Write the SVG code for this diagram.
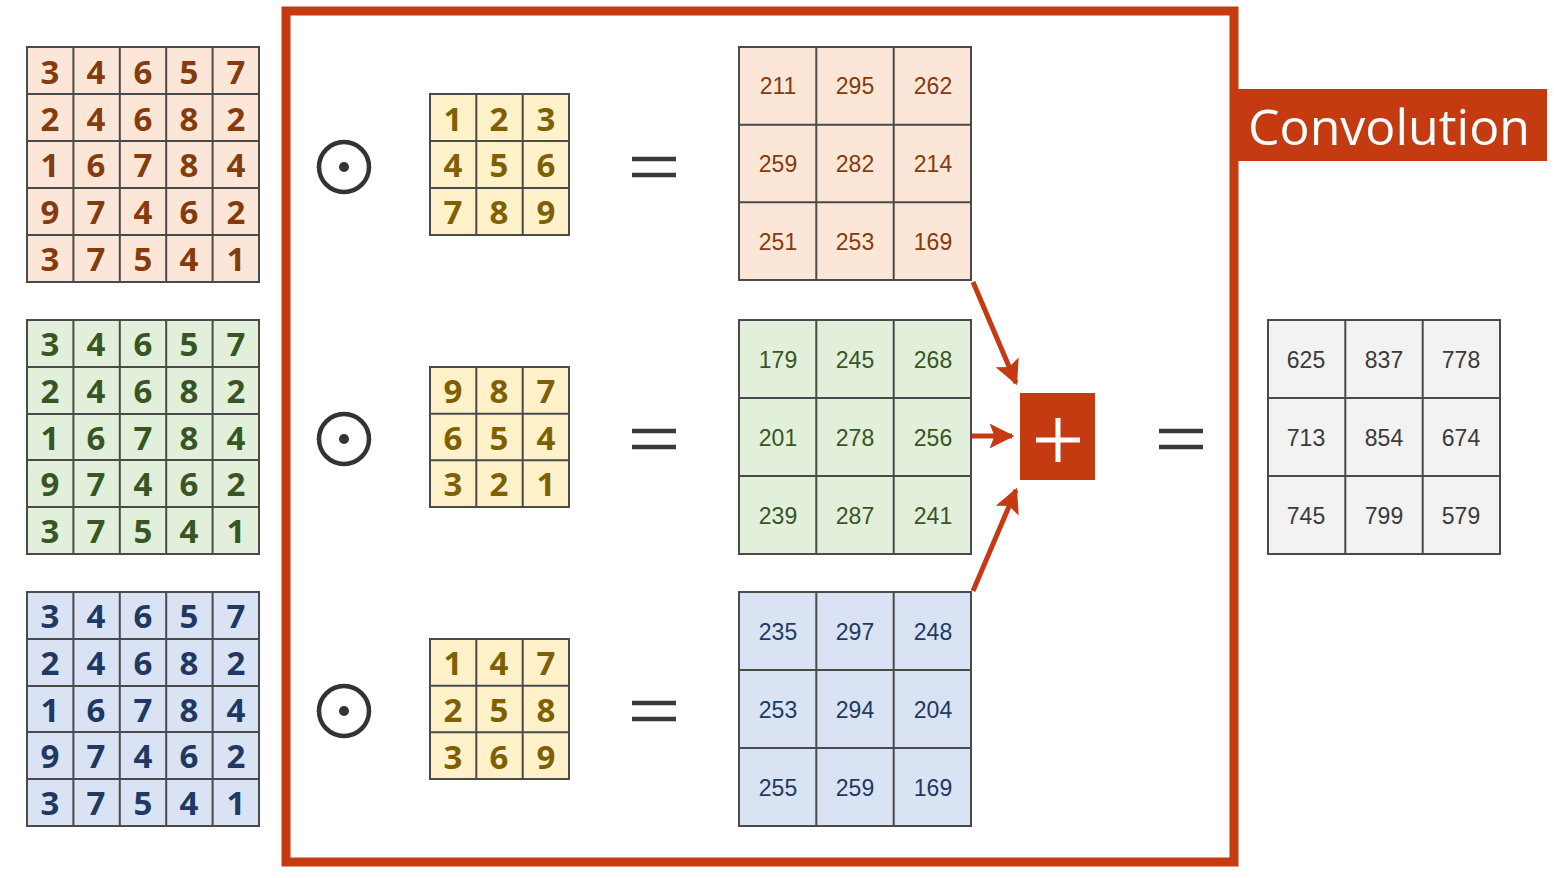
<svg xmlns="http://www.w3.org/2000/svg" width="1554" height="878" viewBox="0 0 1554 878">
<defs>
<marker id="ah" markerWidth="5" markerHeight="5" refX="4.5" refY="2.5" orient="auto" markerUnits="strokeWidth"><path d="M0,0 L5,2.5 L0,5 L1,2.5 Z" fill="#C43B12"/></marker>
</defs>
<style>
.c{stroke:#4a4a4a;stroke-width:2}
.o{fill:#FCE6D8}.g{fill:#E2EFDA}.b{fill:#DAE3F3}.k{fill:#FFF1C9}.w{fill:#F2F2F2}
.big{font-family:"Open Sans","Noto Sans",sans-serif;font-weight:bold;font-size:33px;text-anchor:middle;dominant-baseline:central}
.num{font-family:"Liberation Sans",Arial,sans-serif;font-size:23px;text-anchor:middle;dominant-baseline:central}
.to{fill:#843C0C}.tg{fill:#375623}.tb{fill:#1F3864}.tk{fill:#7F6000}.tw{fill:#3A3A3A}
.od{fill:none;stroke:#333;stroke-width:4.5}
.eq{stroke:#3a3a3a;stroke-width:4.5}
.arr{stroke:#C43B12;stroke-width:5;fill:none;marker-end:url(#ah)}
</style>
<rect width="1554" height="878" fill="#fff"/>
<rect x="286" y="11" width="948" height="851" fill="none" stroke="#C43B12" stroke-width="9"/>
<g id="label-convolution"><rect x="1232" y="89" width="315" height="72" fill="#C43B12"/><text x="1389" y="126" font-family="Open Sans,Noto Sans,sans-serif" font-size="50" fill="#fff" text-anchor="middle" dominant-baseline="central">Convolution</text></g>
<g id="input-red">
<rect class="c o" x="27" y="47" width="232" height="235"/>
<path class="c" d="M73.4,47V282M119.8,47V282M166.2,47V282M212.6,47V282M27,94H259M27,141H259M27,188H259M27,235H259"/>
<g class="big to">
<text x="50" y="71">3</text><text x="96" y="71">4</text><text x="143" y="71">6</text><text x="189" y="71">5</text><text x="236" y="71">7</text>
<text x="50" y="118">2</text><text x="96" y="118">4</text><text x="143" y="118">6</text><text x="189" y="118">8</text><text x="236" y="118">2</text>
<text x="50" y="164">1</text><text x="96" y="164">6</text><text x="143" y="164">7</text><text x="189" y="164">8</text><text x="236" y="164">4</text>
<text x="50" y="211">9</text><text x="96" y="211">7</text><text x="143" y="211">4</text><text x="189" y="211">6</text><text x="236" y="211">2</text>
<text x="50" y="258">3</text><text x="96" y="258">7</text><text x="143" y="258">5</text><text x="189" y="258">4</text><text x="236" y="258">1</text>
</g></g>
<g id="input-green">
<rect class="c g" x="27" y="320" width="232" height="234"/>
<path class="c" d="M73.4,320V554M119.8,320V554M166.2,320V554M212.6,320V554M27,367H259M27,414H259M27,460H259M27,507H259"/>
<g class="big tg">
<text x="50" y="343">3</text><text x="96" y="343">4</text><text x="143" y="343">6</text><text x="189" y="343">5</text><text x="236" y="343">7</text>
<text x="50" y="390">2</text><text x="96" y="390">4</text><text x="143" y="390">6</text><text x="189" y="390">8</text><text x="236" y="390">2</text>
<text x="50" y="437">1</text><text x="96" y="437">6</text><text x="143" y="437">7</text><text x="189" y="437">8</text><text x="236" y="437">4</text>
<text x="50" y="483">9</text><text x="96" y="483">7</text><text x="143" y="483">4</text><text x="189" y="483">6</text><text x="236" y="483">2</text>
<text x="50" y="530">3</text><text x="96" y="530">7</text><text x="143" y="530">5</text><text x="189" y="530">4</text><text x="236" y="530">1</text>
</g></g>
<g id="input-blue">
<rect class="c b" x="27" y="592" width="232" height="234"/>
<path class="c" d="M73.4,592V826M119.8,592V826M166.2,592V826M212.6,592V826M27,639H259M27,686H259M27,732H259M27,779H259"/>
<g class="big tb">
<text x="50" y="615">3</text><text x="96" y="615">4</text><text x="143" y="615">6</text><text x="189" y="615">5</text><text x="236" y="615">7</text>
<text x="50" y="662">2</text><text x="96" y="662">4</text><text x="143" y="662">6</text><text x="189" y="662">8</text><text x="236" y="662">2</text>
<text x="50" y="709">1</text><text x="96" y="709">6</text><text x="143" y="709">7</text><text x="189" y="709">8</text><text x="236" y="709">4</text>
<text x="50" y="755">9</text><text x="96" y="755">7</text><text x="143" y="755">4</text><text x="189" y="755">6</text><text x="236" y="755">2</text>
<text x="50" y="802">3</text><text x="96" y="802">7</text><text x="143" y="802">5</text><text x="189" y="802">4</text><text x="236" y="802">1</text>
</g></g>
<g id="ops">
<circle class="od" cx="344" cy="167" r="25"/><circle cx="344" cy="167" r="5" fill="#333"/>
<circle class="od" cx="344" cy="439" r="25"/><circle cx="344" cy="439" r="5" fill="#333"/>
<circle class="od" cx="344" cy="711" r="25"/><circle cx="344" cy="711" r="5" fill="#333"/>
<path class="eq" d="M632,159H676M632,175H676M632,431H676M632,447H676M632,703H676M632,719H676M1159,431H1203M1159,447H1203"/>
</g>
<g id="kernel-1">
<rect class="c k" x="430" y="94" width="139" height="141"/>
<path class="c" d="M476.3,94V235M522.7,94V235M430,141H569M430,188H569"/>
<g class="big tk"><text x="453" y="118">1</text><text x="499" y="118">2</text><text x="546" y="118">3</text><text x="453" y="164">4</text><text x="499" y="164">5</text><text x="546" y="164">6</text><text x="453" y="211">7</text><text x="499" y="211">8</text><text x="546" y="211">9</text></g>
</g>
<g id="kernel-2">
<rect class="c k" x="430" y="367" width="139" height="140"/>
<path class="c" d="M476.3,367V507M522.7,367V507M430,413.7H569M430,460.3H569"/>
<g class="big tk"><text x="453" y="390">9</text><text x="499" y="390">8</text><text x="546" y="390">7</text><text x="453" y="437">6</text><text x="499" y="437">5</text><text x="546" y="437">4</text><text x="453" y="483">3</text><text x="499" y="483">2</text><text x="546" y="483">1</text></g>
</g>
<g id="kernel-3">
<rect class="c k" x="430" y="639" width="139" height="140"/>
<path class="c" d="M476.3,639V779M522.7,639V779M430,685.7H569M430,732.3H569"/>
<g class="big tk"><text x="453" y="662">1</text><text x="499" y="662">4</text><text x="546" y="662">7</text><text x="453" y="709">2</text><text x="499" y="709">5</text><text x="546" y="709">8</text><text x="453" y="756">3</text><text x="499" y="756">6</text><text x="546" y="756">9</text></g>
</g>
<g id="result-red">
<rect class="c o" x="739" y="47" width="232" height="233"/>
<path class="c" d="M816.3,47V280M893.7,47V280M739,124.7H971M739,202.3H971"/>
<g class="num to"><text x="778" y="86">211</text><text x="855" y="86">295</text><text x="933" y="86">262</text><text x="778" y="164">259</text><text x="855" y="164">282</text><text x="933" y="164">214</text><text x="778" y="242">251</text><text x="855" y="242">253</text><text x="933" y="242">169</text></g>
</g>
<g id="result-green">
<rect class="c g" x="739" y="320" width="232" height="234"/>
<path class="c" d="M816.3,320V554M893.7,320V554M739,398H971M739,476H971"/>
<g class="num tg"><text x="778" y="360">179</text><text x="855" y="360">245</text><text x="933" y="360">268</text><text x="778" y="438">201</text><text x="855" y="438">278</text><text x="933" y="438">256</text><text x="778" y="516">239</text><text x="855" y="516">287</text><text x="933" y="516">241</text></g>
</g>
<g id="result-blue">
<rect class="c b" x="739" y="592" width="232" height="234"/>
<path class="c" d="M816.3,592V826M893.7,592V826M739,670H971M739,748H971"/>
<g class="num tb"><text x="778" y="632">235</text><text x="855" y="632">297</text><text x="933" y="632">248</text><text x="778" y="710">253</text><text x="855" y="710">294</text><text x="933" y="710">204</text><text x="778" y="788">255</text><text x="855" y="788">259</text><text x="933" y="788">169</text></g>
</g>
<g id="sum">
<rect x="1020" y="393" width="75" height="87" fill="#C43B12"/>
<path d="M1036,440H1080M1058,418V462" stroke="#fff" stroke-width="5"/>
</g>
<g id="output">
<rect class="c w" x="1268" y="320" width="232" height="234"/>
<path class="c" d="M1345.3,320V554M1422.7,320V554M1268,398H1500M1268,476H1500"/>
<g class="num tw"><text x="1306" y="360">625</text><text x="1384" y="360">837</text><text x="1461" y="360">778</text><text x="1306" y="438">713</text><text x="1384" y="438">854</text><text x="1461" y="438">674</text><text x="1306" y="516">745</text><text x="1384" y="516">799</text><text x="1461" y="516">579</text></g>
</g>
<g id="connectors">
<path class="arr" d="M973,282L1016,383"/>
<path class="arr" d="M972,436H1012"/>
<path class="arr" d="M973,591L1016,490"/>
</g>
</svg>
